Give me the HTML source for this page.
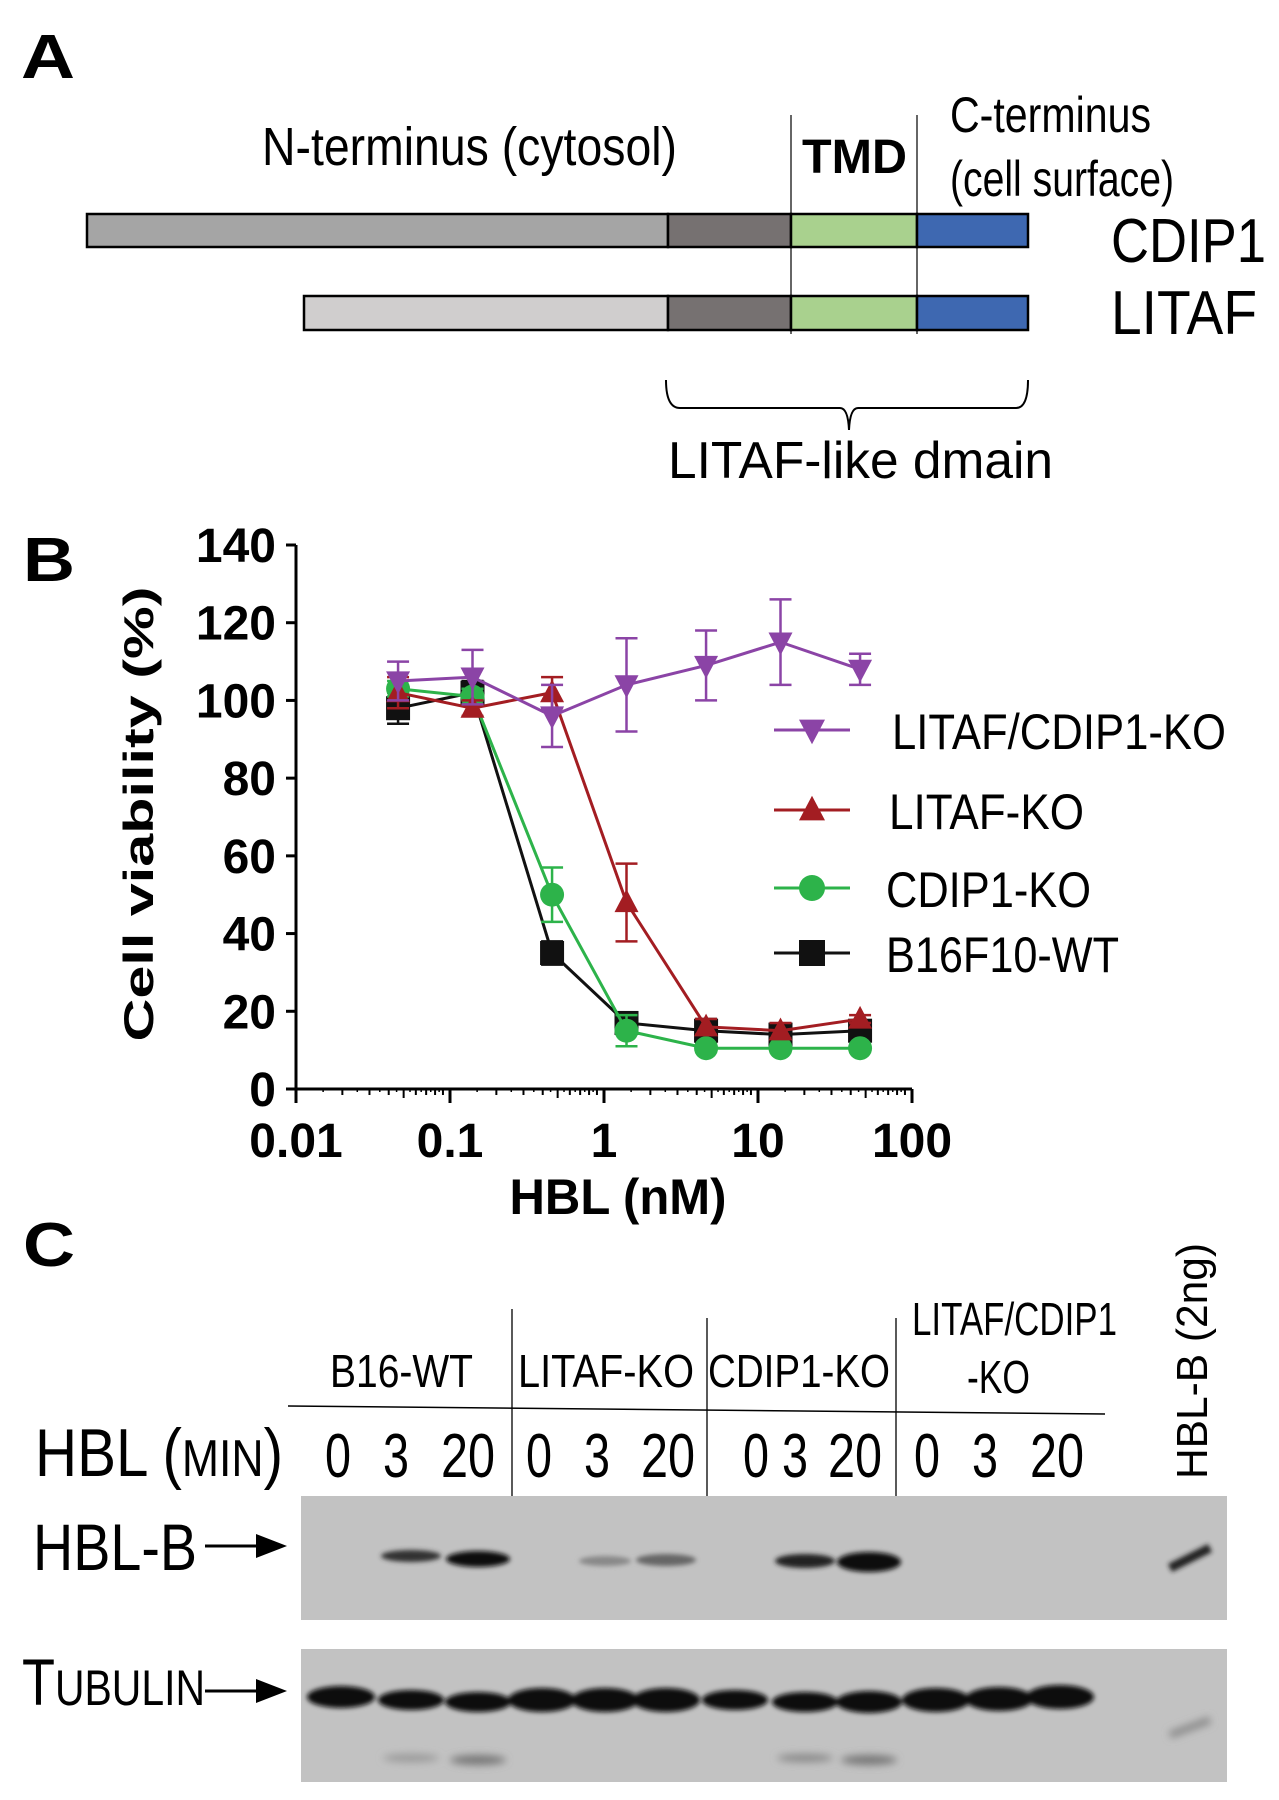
<!DOCTYPE html>
<html><head><meta charset="utf-8"><style>
html,body{margin:0;padding:0;background:#fff;}
svg{display:block;font-family:"Liberation Sans",sans-serif;}
</style></head><body>
<svg id="fig" width="1279" height="1800" viewBox="0 0 1279 1800" xmlns="http://www.w3.org/2000/svg">
<defs>
<filter id="blur2" x="-20%" y="-100%" width="140%" height="300%"><feGaussianBlur stdDeviation="2.5"/></filter>
<filter id="blur4" x="-20%" y="-100%" width="140%" height="300%"><feGaussianBlur stdDeviation="4"/></filter>
</defs>
<!-- Panel A -->
<g>
<text x="21" y="78" font-size="62" font-weight="bold" textLength="54" lengthAdjust="spacingAndGlyphs">A</text>
<text x="262" y="165" font-size="54" textLength="415" lengthAdjust="spacingAndGlyphs">N-terminus (cytosol)</text>
<text x="802" y="173" font-size="48" font-weight="bold" textLength="105" lengthAdjust="spacingAndGlyphs">TMD</text>
<text x="950" y="132" font-size="50" textLength="201" lengthAdjust="spacingAndGlyphs">C-terminus</text>
<text x="950" y="196" font-size="50" textLength="224" lengthAdjust="spacingAndGlyphs">(cell surface)</text>
<line x1="791" y1="115" x2="791" y2="334" stroke="#000" stroke-width="1.2"/>
<line x1="917" y1="115" x2="917" y2="334" stroke="#000" stroke-width="1.2"/>
<g stroke="#000" stroke-width="2.5">
<rect x="87" y="214" width="581" height="33" fill="#a5a5a5"/>
<rect x="668" y="214" width="123" height="33" fill="#767171"/>
<rect x="791" y="214" width="126" height="33" fill="#a9d18e"/>
<rect x="917" y="214" width="111" height="33" fill="#3e68b1"/>
</g>
<g stroke="#000" stroke-width="2.5">
<rect x="304" y="296" width="364" height="34" fill="#d0cece"/>
<rect x="668" y="296" width="123" height="34" fill="#767171"/>
<rect x="791" y="296" width="126" height="34" fill="#a9d18e"/>
<rect x="917" y="296" width="111" height="34" fill="#3e68b1"/>
</g>
<text x="1111" y="262" font-size="62" textLength="155" lengthAdjust="spacingAndGlyphs">CDIP1</text>
<text x="1111" y="334" font-size="62" textLength="146" lengthAdjust="spacingAndGlyphs">LITAF</text>
<path d="M666 380 Q666 408 680 408 L840 408 Q848 408 849 430 Q850 408 858 408 L1016 408 Q1028 408 1028 380" fill="none" stroke="#000" stroke-width="2"/>
<text x="668" y="478" font-size="52" textLength="385" lengthAdjust="spacingAndGlyphs">LITAF-like dmain</text>
</g>
<!-- Panel B -->
<g id="panelB">
<text x="23" y="581" font-size="62" font-weight="bold" textLength="52" lengthAdjust="spacingAndGlyphs">B</text>
<text transform="translate(153,814) rotate(-90)" text-anchor="middle" font-size="42" font-weight="bold" textLength="455" lengthAdjust="spacingAndGlyphs">Cell viability (%)</text>
<text x="618" y="1214" text-anchor="middle" font-size="50" font-weight="bold" textLength="217" lengthAdjust="spacingAndGlyphs">HBL (nM)</text>
<g id="axes"></g>
<g id="series"></g>
<g id="legend"></g>
</g>
<!-- Panel C -->
<g>
<text x="23" y="1266" font-size="62" font-weight="bold" textLength="52" lengthAdjust="spacingAndGlyphs">C</text>
<text x="330" y="1387" font-size="46" textLength="143" lengthAdjust="spacingAndGlyphs">B16-WT</text>
<text x="518" y="1387" font-size="46" textLength="176" lengthAdjust="spacingAndGlyphs">LITAF-KO</text>
<text x="708" y="1387" font-size="46" textLength="182" lengthAdjust="spacingAndGlyphs">CDIP1-KO</text>
<text x="912" y="1335" font-size="46" textLength="205" lengthAdjust="spacingAndGlyphs">LITAF/CDIP1</text>
<text x="967" y="1393" font-size="46" textLength="63" lengthAdjust="spacingAndGlyphs">-KO</text>
<path d="M288 1406 L1105 1414" stroke="#000" stroke-width="1.5"/>
<line x1="512" y1="1309" x2="512" y2="1497" stroke="#000" stroke-width="1.3"/>
<line x1="707" y1="1318" x2="707" y2="1505" stroke="#000" stroke-width="1.3"/>
<line x1="896" y1="1318" x2="896" y2="1508" stroke="#000" stroke-width="1.3"/>
<text x="35" y="1476" font-size="68" textLength="248" lengthAdjust="spacingAndGlyphs">HBL (<tspan font-size="52">MIN</tspan>)</text>
<g font-size="62" text-anchor="middle">
<text x="338" y="1477" textLength="26" lengthAdjust="spacingAndGlyphs">0</text><text x="396" y="1477" textLength="26" lengthAdjust="spacingAndGlyphs">3</text><text x="468" y="1477" textLength="54" lengthAdjust="spacingAndGlyphs">20</text>
<text x="539" y="1477" textLength="26" lengthAdjust="spacingAndGlyphs">0</text><text x="597" y="1477" textLength="26" lengthAdjust="spacingAndGlyphs">3</text><text x="668" y="1477" textLength="54" lengthAdjust="spacingAndGlyphs">20</text>
<text x="756" y="1477" textLength="26" lengthAdjust="spacingAndGlyphs">0</text><text x="795" y="1477" textLength="26" lengthAdjust="spacingAndGlyphs">3</text><text x="855" y="1477" textLength="54" lengthAdjust="spacingAndGlyphs">20</text>
<text x="927" y="1477" textLength="26" lengthAdjust="spacingAndGlyphs">0</text><text x="985" y="1477" textLength="26" lengthAdjust="spacingAndGlyphs">3</text><text x="1057" y="1477" textLength="54" lengthAdjust="spacingAndGlyphs">20</text>
</g>
<text transform="translate(1207,1361) rotate(-90)" text-anchor="middle" font-size="44" textLength="236" lengthAdjust="spacingAndGlyphs">HBL-B (2ng)</text>
<text x="33" y="1570" font-size="66" textLength="164" lengthAdjust="spacingAndGlyphs">HBL-B</text>
<line x1="205" y1="1546" x2="262" y2="1546" stroke="#000" stroke-width="3"/>
<polygon points="256,1534 287,1546 256,1558" fill="#000"/>
<text x="22" y="1705" font-size="66" textLength="183" lengthAdjust="spacingAndGlyphs">T<tspan font-size="50">UBULIN</tspan></text>
<line x1="205" y1="1691" x2="262" y2="1691" stroke="#000" stroke-width="3"/>
<polygon points="256,1679 287,1691 256,1703" fill="#000"/>
<g>
<rect x="301" y="1496" width="926" height="124" fill="#c2c2c2"/>
<g filter="url(#blur2)">
<ellipse cx="411" cy="1556" rx="30" ry="6" fill="#333"/>
<ellipse cx="478" cy="1559" rx="32" ry="8" fill="#111"/>
<ellipse cx="605" cy="1561" rx="26" ry="5" fill="#888"/>
<ellipse cx="666" cy="1560" rx="30" ry="6" fill="#666"/>
<ellipse cx="805" cy="1561" rx="30" ry="7" fill="#222"/>
<ellipse cx="869" cy="1562" rx="32" ry="10" fill="#0a0a0a"/>
<path d="M1170 1568 L1210 1548" stroke="#222" stroke-width="9"/>
</g>
</g>
<g>
<rect x="301" y="1649" width="926" height="133" fill="#c2c2c2"/>
<g filter="url(#blur2)" fill="#0a0a0a">
<ellipse cx="341" cy="1697" rx="34" ry="11"/>
<ellipse cx="411" cy="1700" rx="33" ry="10"/>
<ellipse cx="478" cy="1702" rx="33" ry="10"/>
<ellipse cx="542" cy="1700" rx="34" ry="12"/>
<ellipse cx="605" cy="1700" rx="34" ry="12"/>
<ellipse cx="666" cy="1700" rx="34" ry="12"/>
<ellipse cx="735" cy="1700" rx="33" ry="10"/>
<ellipse cx="805" cy="1702" rx="33" ry="10"/>
<ellipse cx="869" cy="1702" rx="33" ry="11"/>
<ellipse cx="936" cy="1700" rx="34" ry="12"/>
<ellipse cx="999" cy="1699" rx="34" ry="12"/>
<ellipse cx="1060" cy="1697" rx="34" ry="12"/>
</g>
<g filter="url(#blur4)">
<ellipse cx="411" cy="1758" rx="28" ry="4" fill="#999"/>
<ellipse cx="478" cy="1760" rx="28" ry="5" fill="#777"/>
<ellipse cx="805" cy="1758" rx="28" ry="4" fill="#888"/>
<ellipse cx="869" cy="1760" rx="28" ry="5" fill="#777"/>
<path d="M1170 1735 L1210 1720" stroke="#888" stroke-width="7"/>
</g>
</g>
</g>
<script>
// ===== Panel B data =====
const doses = [0.046, 0.14, 0.46, 1.4, 4.6, 14, 46];
const dkoValues = [105, 106, 96, 104, 109, 115, 108];
const dkoErrors = [5, 7, 8, 12, 9, 11, 4];
const litafValues = [102, 98, 102, 48, 16, 15, 18];
const litafErrors = [4, 2, 4, 10, 2, 2, 1];
const cdip1Values = [103, 101, 50, 15, 10.5, 10.5, 10.5];
const cdip1Errors = [2, 2, 7, 4, 1, 1, 1];
const wtValues = [98, 102, 35, 17, 15, 14, 15];
const wtErrors = [4, 3, 3, 2, 3, 2, 2];
const yTicks = [0, 20, 40, 60, 80, 100, 120, 140];
const xTicks = [0.01, 0.1, 1, 10, 100];
const xTickLabels = ["0.01", "0.1", "1", "10", "100"];
const seriesNames = ["LITAF/CDIP1-KO", "LITAF-KO", "CDIP1-KO", "B16F10-WT"];

const NS = "http://www.w3.org/2000/svg";
const X0 = 296, X1 = 912, Y0 = 1089, Y1 = 545;
function xs(v){ return X0 + (Math.log10(v) + 2) / 4 * (X1 - X0); }
function ys(v){ return Y0 - v / 140 * (Y0 - Y1); }
function mk(tag, attrs, parent){ const e = document.createElementNS(NS, tag); for (const k in attrs) e.setAttribute(k, attrs[k]); parent.appendChild(e); return e; }

const axes = document.getElementById('axes');
const ax = mk('line', {x1:X0, y1:Y0, x2:X1, y2:Y0, stroke:'#000', 'stroke-width':3}, axes);


const ay = mk('line', {x1:X0, y1:Y0, x2:X0, y2:Y1, stroke:'#000', 'stroke-width':3}, axes);


yTicks.forEach(function(t){
  mk('line', {x1:X0-10, y1:ys(t), x2:X0, y2:ys(t), stroke:'#000', 'stroke-width':3}, axes);
  const tx = mk('text', {x:X0-20, y:ys(t)+17, 'text-anchor':'end', 'font-size':48, 'font-weight':'bold'}, axes);
  
  
  tx.textContent = t;
});
xTicks.forEach(function(t, i){
  mk('line', {x1:xs(t), y1:Y0, x2:xs(t), y2:Y0+14, stroke:'#000', 'stroke-width':3}, axes);
  const tx = mk('text', {x:xs(t), y:1157, 'text-anchor':'middle', 'font-size':48, 'font-weight':'bold'}, axes);
  
  
  tx.textContent = xTickLabels[i];
  if (i < xTicks.length - 1) {
    for (let m = 2; m <= 9; m++) {
      const len = (m === 5) ? 9 : 6;
      mk('line', {x1:xs(t*m), y1:Y0, x2:xs(t*m), y2:Y0+len, stroke:'#000', 'stroke-width':2}, axes);
      mk('line', {x1:xs(t*(m-0.5)), y1:Y0, x2:xs(t*(m-0.5)), y2:Y0+3, stroke:'#000', 'stroke-width':1.5}, axes);
    }
  }
});

const series = document.getElementById('series');
const colors = ['#8b44a6', '#a31d22', '#2db34a', '#111111'];
const allVals = [dkoValues, litafValues, cdip1Values, wtValues];
const allErrs = [dkoErrors, litafErrors, cdip1Errors, wtErrors];
const shapes = ['tdown', 'tup', 'circle', 'square'];
function marker(shape, cx, cy, r, color, parent){
  if (shape === 'circle') return mk('circle', {cx:cx, cy:cy, r:r, fill:color}, parent);
  if (shape === 'square') return mk('rect', {x:cx-r, y:cy-r, width:2*r, height:2*r, fill:color}, parent);
  if (shape === 'tup') return mk('polygon', {points:(cx-r)+','+(cy+r*0.8)+' '+(cx+r)+','+(cy+r*0.8)+' '+cx+','+(cy-r*1.1), fill:color}, parent);
  return mk('polygon', {points:(cx-r)+','+(cy-r*0.8)+' '+(cx+r)+','+(cy-r*0.8)+' '+cx+','+(cy+r*1.1), fill:color}, parent);
}
[3, 2, 1, 0].forEach(function(s){
  const g = mk('g', {}, series);
  
  
  const pts = doses.map(function(d, i){ return xs(d) + ',' + ys(allVals[s][i]); }).join(' ');
  mk('polyline', {points:pts, fill:'none', stroke:colors[s], 'stroke-width':3}, g);
  doses.forEach(function(d, i){
    const x = xs(d), v = allVals[s][i], e = allErrs[s][i];
    mk('line', {x1:x, y1:ys(v-e), x2:x, y2:ys(v+e), stroke:colors[s], 'stroke-width':2.5}, g);
    mk('line', {x1:x-11, y1:ys(v+e), x2:x+11, y2:ys(v+e), stroke:colors[s], 'stroke-width':2.5}, g);
    mk('line', {x1:x-11, y1:ys(v-e), x2:x+11, y2:ys(v-e), stroke:colors[s], 'stroke-width':2.5}, g);
    const p = marker(shapes[s], x, ys(v), 12, colors[s], g);
    
    
  });
});

const legend = document.getElementById('legend');
const legY = [730, 810, 888, 953];
const legTextX = [892, 889, 886, 886];
const legW = [334, 195, 205, 233];
seriesNames.forEach(function(n, i){
  const g = mk('g', {}, legend);
  
  
  mk('line', {x1:774, y1:legY[i], x2:850, y2:legY[i], stroke:colors[i], 'stroke-width':3}, g);
  marker(shapes[i], 812, legY[i], 13, colors[i], g);
  const t = mk('text', {x:legTextX[i], y:legY[i]+19, 'font-size':50, textLength:legW[i], lengthAdjust:'spacingAndGlyphs'}, g);
  t.textContent = n;
});
</script>
</svg>
</body></html>
